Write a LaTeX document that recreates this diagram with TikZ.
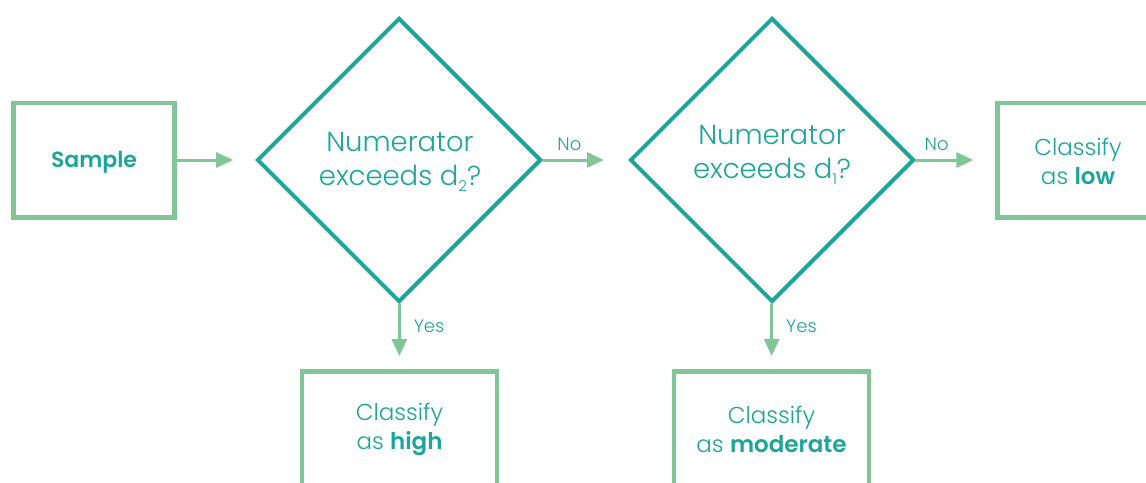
\documentclass[tikz,border=0pt]{standalone}
\usepackage{fontspec}
\setmainfont{Poppins}[UprightFont=* Light, BoldFont=* SemiBold]
\usetikzlibrary{shapes.geometric,arrows.meta}
\definecolor{tealc}{HTML}{1CA59A}
\definecolor{greenc}{HTML}{80C697}
\tikzset{
  box/.style={draw=greenc, line width=4.5pt, minimum width=161pt, minimum height=114.5pt,
    text=tealc, align=center, inner sep=0pt},
  lowerbox/.style={box, minimum width=195pt},
  decision/.style={diamond, aspect=1, draw=tealc, line width=4pt, minimum width=284pt,
    minimum height=284pt, text=tealc, align=center, inner sep=0pt},
  dtext/.style={text=tealc, align=center, inner sep=0pt, font=\fontsize{27.5}{34}\selectfont},
  flow/.style={draw=greenc, line width=3pt, -{Triangle[length=17pt,width=15pt]}},
  lbl/.style={text=tealc, font=\fontsize{18}{20}\selectfont, inner sep=0pt},
  boxtext/.style={text=tealc, align=center, inner sep=0pt, font=\fontsize{23}{29}\selectfont}
}
\newcommand{\lowsub}[1]{\raisebox{-0.45ex}{\fontsize{15}{15}\selectfont #1}}
\begin{document}
\begin{tikzpicture}[x=1pt,y=-1pt]
  \useasboundingbox (0,0) rectangle (1146,482);
  \clip (0,0) rectangle (1146,482);

  % shapes
  \node[box] (sample) at (94,160) {};
  \node[decision] (d1) at (399,160) {};
  \node[decision] (d2) at (772,160) {};
  \node[box] (low) at (1078,160) {};
  \node[lowerbox, anchor=north] (high) at (399.5,369) {};
  \node[lowerbox, anchor=north] (moderate) at (771.5,369) {};

  % texts
  \node[boxtext, font=\bfseries\fontsize{22}{26}\selectfont] (sampletext) at (94,162) {Sample};
  \node[dtext] (d1text) at (400,162) {Numerator\\exceeds d\lowsub{2}?};
  \node[dtext] (d2text) at (772,155) {Numerator\\exceeds d\lowsub{1}?};
  \node[boxtext] (lowtext) at (1078,161) {Classify\\as \textbf{low}};
  \node[boxtext] (hightext) at (399.5,429) {Classify\\as \textbf{high}};
  \node[boxtext] (modtext) at (771.5,429) {Classify\\as \textbf{moderate}};

  % connectors
  \draw[flow, shorten >=22pt] (sample) -- (d1);
  \draw[flow, shorten >=24pt] (d1) -- node[lbl, pos=0.31, above=8pt] {No} (d2);
  \draw[flow, shorten >=22pt] (d2) -- node[lbl, pos=0.26, above=8pt] {No} (low);
  \draw[flow, shorten >=13pt] (d1) -- node[lbl, right=13pt, pos=0.35] {Yes} (high);
  \draw[flow, shorten >=13pt] (d2) -- node[lbl, right=13pt, pos=0.35] {Yes} (moderate);
\end{tikzpicture}
\end{document}
